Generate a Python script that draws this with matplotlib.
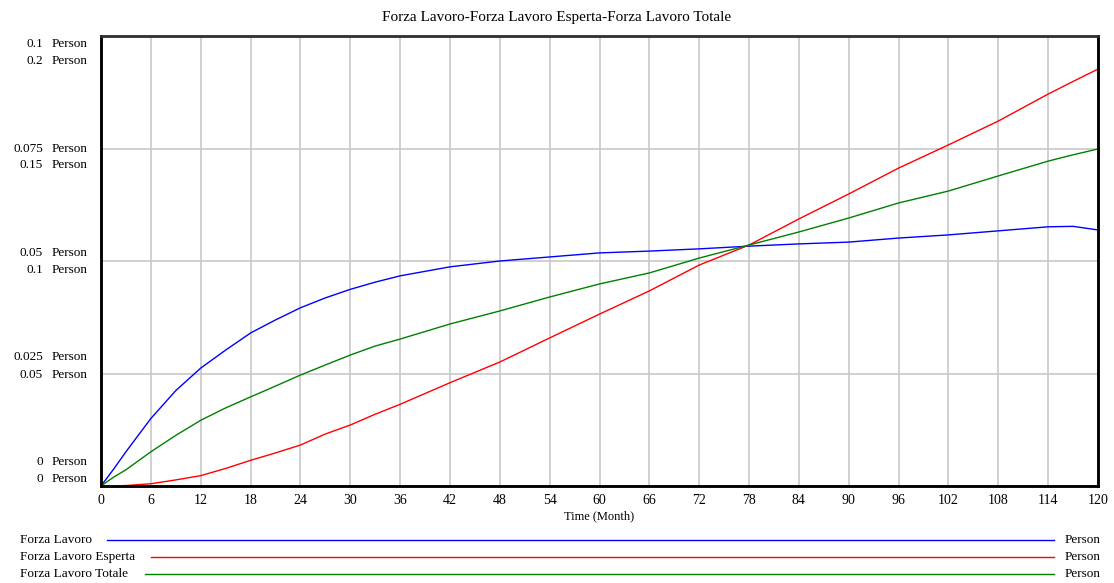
import matplotlib
matplotlib.use("Agg")
import matplotlib.pyplot as plt
from matplotlib import transforms
from matplotlib.lines import Line2D

plt.rcParams['font.family'] = ['Liberation Serif', 'DejaVu Serif']

# Time axis (months)
time = [0, 1.5, 3, 6, 9, 12, 15, 18, 21, 24, 27, 30, 33, 36, 42, 48, 54, 60, 66, 72,
        78, 84, 90, 96, 102, 108, 114, 117, 120]

# Series values (Person)
forza_lavoro = [0, 0.0037, 0.0076, 0.0150, 0.0212, 0.0262, 0.0302, 0.0340, 0.0369,
                0.0396, 0.0418, 0.0437, 0.0453, 0.0467, 0.0487, 0.0500, 0.0509,
                0.0518, 0.0522, 0.0527, 0.0533, 0.0538, 0.0542, 0.0551, 0.0558,
                0.0567, 0.0576, 0.0577, 0.0569]
forza_esperta = [0, 0.0001, 0.0002, 0.0010, 0.0027, 0.0046, 0.0078, 0.0114, 0.0147,
                 0.0182, 0.0231, 0.0271, 0.0319, 0.0363, 0.0459, 0.0551, 0.0658,
                 0.0764, 0.0867, 0.0982, 0.1071, 0.1187, 0.1298, 0.1413, 0.1516,
                 0.1622, 0.1742, 0.1798, 0.1853]
forza_totale = [0, 0.0039, 0.0072, 0.0152, 0.0225, 0.0292, 0.0347, 0.0396, 0.0444,
                0.0493, 0.0538, 0.0582, 0.0622, 0.0653, 0.0720, 0.0778, 0.0840,
                0.0898, 0.0947, 0.1013, 0.1071, 0.1129, 0.1191, 0.1258, 0.1311,
                0.1378, 0.1444, 0.1472, 0.1498]

scale1_ticks = [0, 0.025, 0.05, 0.075, 0.1]
scale1_labels = ["0", "0.025", "0.05", "0.075", "0.1"]
scale2_ticks = [0, 0.05, 0.1, 0.15, 0.2]
scale2_labels = ["0", "0.05", "0.1", "0.15", "0.2"]
x_ticks = list(range(0, 121, 6))

series_names = ["Forza Lavoro", "Forza Lavoro Esperta", "Forza Lavoro Totale"]
series_colors = ["#0000ff", "#ff0000", "#008000"]

fig = plt.figure(figsize=(11.14, 5.83), dpi=100)
ax = fig.add_axes([101 / 1114, 97 / 583, 997 / 1114, 450 / 583])
ax2 = ax.twinx()

ax.set_xlim(0, 120)
ax.set_ylim(0, 0.1)
ax2.set_ylim(0, 0.2)

ax.plot(time, forza_lavoro, color=series_colors[0], lw=1)
ax2.plot(time, forza_esperta, color=series_colors[1], lw=1)
ax2.plot(time, forza_totale, color=series_colors[2], lw=1)

# grid
ax.set_xticks(x_ticks)
ax.set_yticks(scale1_ticks)
ax.grid(True, color="#c8c8c8", lw=1.2)
ax.set_axisbelow(True)
ax.tick_params(axis='y', length=0, labelleft=False)
ax.tick_params(axis='x', length=0, pad=6, labelsize=10)
ax2.set_yticks([])

for a in (ax, ax2):
    for side in ("left", "bottom", "right"):
        a.spines[side].set_color("black")
        a.spines[side].set_linewidth(1.8)
    a.spines["top"].set_color("#333333")
    a.spines["top"].set_linewidth(1.8)

ax.set_xlabel("Time (Month)", fontsize=9, labelpad=2)

# stacked y labels for the two scales
fs = 9.5
for i in range(5):
    frac = i / 4
    off1 = -(8 - 32 * (1 - frac))  # pixels, upward positive
    off2 = off1 - 17
    for a, ticks, labels, off in ((ax, scale1_ticks, scale1_labels, off1),
                                  (ax2, scale2_ticks, scale2_labels, off2)):
        tr = transforms.offset_copy(a.get_yaxis_transform(), fig=fig,
                                    x=0, y=off, units='dots')
        a.text(-58 / 997, ticks[i], labels[i], transform=tr, ha='right',
               va='center', fontsize=fs, clip_on=False)
        a.text(-49 / 997, ticks[i], "Person", transform=tr, ha='left',
               va='center', fontsize=fs, clip_on=False)

fig.text(0.5, 1 - 17 / 583, "Forza Lavoro-Forza Lavoro Esperta-Forza Lavoro Totale",
         ha='center', va='center', fontsize=11)

# legend rows
legend_y = [540, 557, 574]
legend_start = [107, 151, 145]
for name, color, y, x0 in zip(series_names, series_colors, legend_y, legend_start):
    yf = 1 - y / 583
    fig.text(20 / 1114, yf, name, ha='left', va='center', fontsize=fs)
    fig.add_artist(Line2D([x0 / 1114, 1054 / 1114], [yf, yf], color=color, lw=1,
                          transform=fig.transFigure))
    fig.text(1065 / 1114, yf, "Person", ha='left', va='center', fontsize=fs)

fig.savefig("out.png", dpi=100)
